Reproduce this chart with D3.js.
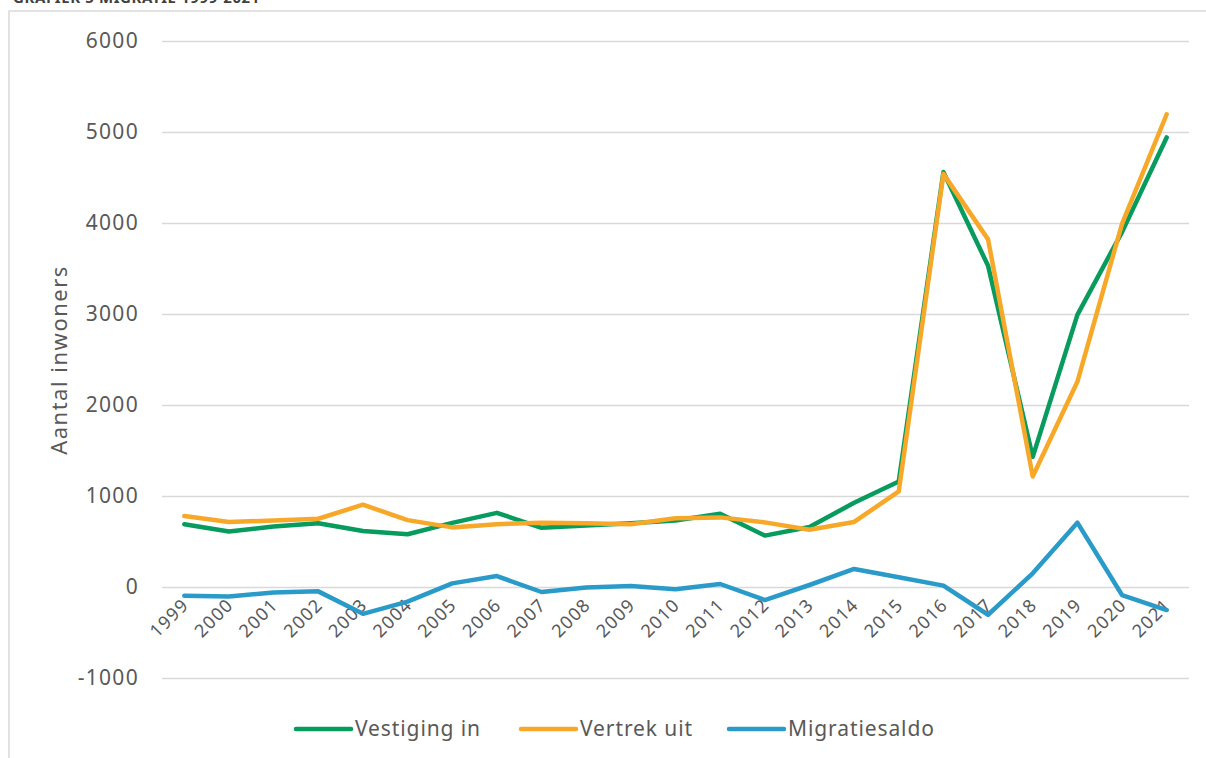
<!DOCTYPE html>
<html>
<head>
<meta charset="utf-8">
<script src="https://cdn.jsdelivr.net/npm/d3@7"></script>
<style>
  body { margin: 0; background: #fff; }
  svg { display: block; font-family: "Noto Sans", sans-serif; }
</style>
</head>
<body>
<div class="canvas"></div>
<script>
const years = ['1999', '2000', '2001', '2002', '2003', '2004', '2005', '2006', '2007', '2008', '2009', '2010',
  '2011', '2012', '2013', '2014', '2015', '2016', '2017', '2018', '2019', '2020', '2021']
const vestiging = [690, 610, 665, 700, 615, 580, 705, 815, 650, 675, 700, 730,
  805, 565, 660, 925, 1160, 4560, 3530, 1430, 2990, 3900, 4940]
const vertrek = [780, 715, 730, 750, 905, 735, 655, 690, 705, 700, 690, 755,
  765, 710, 630, 715, 1050, 4540, 3820, 1215, 2255, 3990, 5195]
const saldo = [-95, -105, -60, -48, -295, -160, 40, 120, -55, -5, 10, -25,
  33, -143, 22, 198, 108, 15, -305, 150, 707, -88, -253]
const yTicks = [-1000, 0, 1000, 2000, 3000, 4000, 5000, 6000]

const series = [
  {name: 'Vestiging in', values: vestiging, color: '#079b5e'},
  {name: 'Vertrek uit', values: vertrek, color: '#f8a828'},
  {name: 'Migratiesaldo', values: saldo, color: '#2a9bc9'}
]

const width = 1206
const height = 758
const margin = {left: 162, right: 17}

const svg = d3.select('.canvas').append('svg')
  .attr('width', width)
  .attr('height', height)

// caption above the frame, mostly scrolled off like in the source
svg.append('text')
  .attr('x', 13)
  .attr('y', 3)
  .attr('fill', '#404040')
  .attr('font-weight', 700)
  .attr('font-size', 15)
  .attr('letter-spacing', 0.6)
  .text('GRAFIEK 5 MIGRATIE 1999-2021')

svg.append('rect')
  .attr('x', 9)
  .attr('y', 11)
  .attr('width', 1400)
  .attr('height', 900)
  .attr('fill', 'none')
  .attr('stroke', '#d9d9d9')
  .attr('stroke-width', 1.5)

const x = d3.scalePoint()
  .domain(years)
  .range([margin.left, width - margin.right])
  .padding(0.5)

const y = d3.scaleLinear()
  .domain([-1000, 6000])
  .range([678, 41])

const yAxis = svg.append('g')
  .attr('transform', `translate(${margin.left}, 0)`)
  .call(d3.axisLeft(y)
    .tickValues(yTicks)
    .tickSize(-(width - margin.left - margin.right))
    .tickPadding(23)
    .tickFormat(d => String(d)))
yAxis.select('.domain').remove()
yAxis.selectAll('line')
  .attr('stroke', '#d9d9d9')
  .attr('stroke-width', 1.5)
yAxis.selectAll('text')
  .attr('fill', '#595959')
  .attr('font-size', 21)
  .attr('letter-spacing', 1.3)
  .attr('font-family', '"Noto Sans", sans-serif')

const xAxis = svg.append('g')
  .attr('transform', `translate(0, ${y(0)})`)
  .call(d3.axisBottom(x).tickSize(0))
xAxis.select('.domain').remove()
xAxis.selectAll('text')
  .attr('fill', '#595959')
  .attr('font-size', 18)
  .attr('letter-spacing', 1.2)
  .attr('font-family', '"Noto Sans", sans-serif')
  .attr('text-anchor', 'end')
  .attr('dy', 0)
  .attr('y', 0)
  .attr('transform', 'translate(5, 19) rotate(-45)')

svg.append('text')
  .attr('transform', `translate(67, 360) rotate(-90)`)
  .attr('text-anchor', 'middle')
  .attr('fill', '#595959')
  .attr('font-size', 22)
  .attr('letter-spacing', 1.5)
  .text('Aantal inwoners')

const line = d3.line()
  .x((d, i) => x(years[i]))
  .y(d => y(d))

svg.append('g')
  .selectAll('path')
  .data(series)
  .join('path')
  .attr('d', d => line(d.values))
  .attr('fill', 'none')
  .attr('stroke', d => d.color)
  .attr('stroke-width', 4.5)
  .attr('stroke-linejoin', 'round')
  .attr('stroke-linecap', 'round')

const legendX = [296, 521, 729]
const legend = svg.append('g')
  .selectAll('g')
  .data(series)
  .join('g')
  .attr('transform', (d, i) => `translate(${legendX[i]}, 729)`)
legend.append('line')
  .attr('x1', 0)
  .attr('x2', 55)
  .attr('stroke', d => d.color)
  .attr('stroke-width', 4.5)
  .attr('stroke-linecap', 'round')
legend.append('text')
  .attr('x', 59)
  .attr('dy', '0.35em')
  .attr('fill', '#595959')
  .attr('font-size', 21)
  .attr('letter-spacing', 0.9)
  .text(d => d.name)
</script>
</body>
</html>
